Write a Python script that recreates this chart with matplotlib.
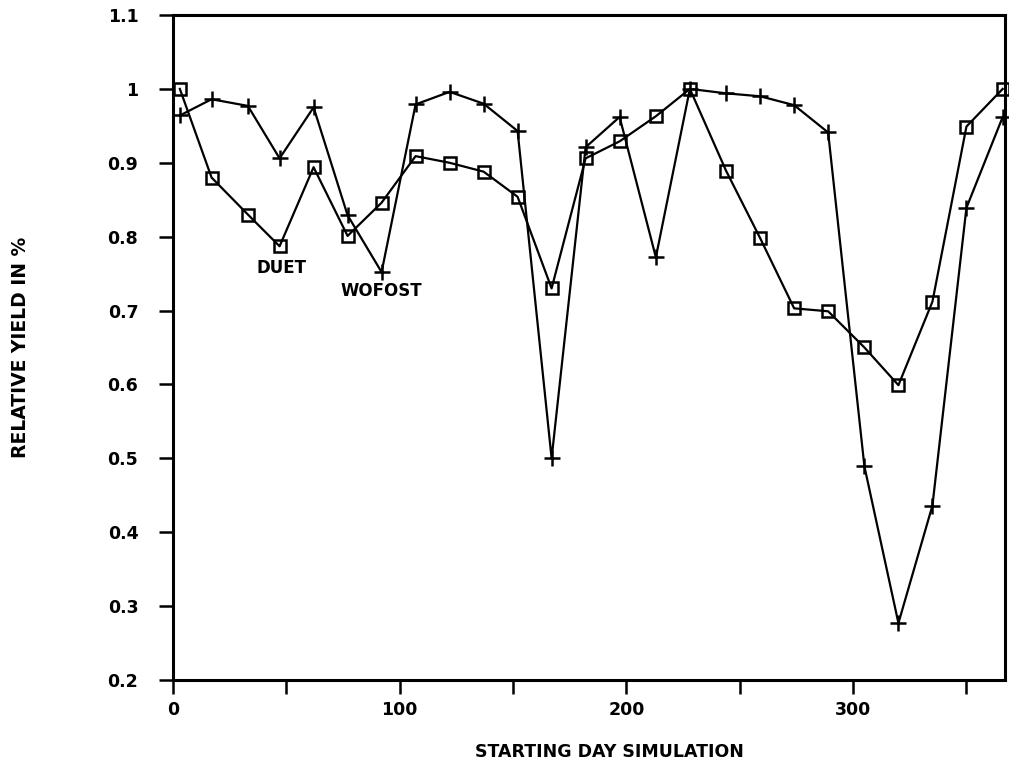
import matplotlib
matplotlib.use("Agg")
import matplotlib.pyplot as plt
from matplotlib.ticker import FixedLocator

# starting day of each simulation run
start_day = [3, 17, 33, 47, 62, 77, 92, 107, 122, 137, 152, 167, 182,
             197, 213, 228, 244, 259, 274, 289, 305, 320, 335, 350, 366]

# relative yield, DUET model (squares)
duet = [1.0, 0.88, 0.83, 0.787, 0.894, 0.801, 0.846, 0.909, 0.90, 0.888,
        0.854, 0.730, 0.906, 0.929, 0.963, 1.0, 0.889, 0.798, 0.703,
        0.699, 0.650, 0.599, 0.712, 0.949, 1.0]

# relative yield, WOFOST model (plus)
wofost = [0.964, 0.986, 0.977, 0.906, 0.975, 0.829, 0.752, 0.979, 0.996,
          0.980, 0.943, 0.500, 0.921, 0.962, 0.772, 1.0, 0.994, 0.990,
          0.978, 0.941, 0.489, 0.277, 0.436, 0.839, 0.962]

y_ticks = [0.2, 0.3, 0.4, 0.5, 0.6, 0.7, 0.8, 0.9, 1.0, 1.1]
y_tick_labels = ["0.2", "0.3", "0.4", "0.5", "0.6", "0.7", "0.8", "0.9", "1", "1.1"]
x_ticks = [0, 100, 200, 300]

plt.rcParams['font.family'] = ['DejaVu Sans']
plt.rcParams['font.weight'] = 'bold'

fig = plt.figure(figsize=(10.09, 7.66), dpi=100)
ax = fig.add_axes([0.1715, 0.1123, 0.8245, 0.8681])

ax.plot(start_day, wofost, color="black", linewidth=1.6, marker="+",
        markersize=11, markeredgewidth=1.8, clip_on=False, zorder=3)
ax.plot(start_day, duet, color="black", linewidth=1.6, marker="s",
        markersize=8.5, markerfacecolor="none", markeredgewidth=1.8,
        clip_on=False, zorder=4)

ax.set_xlim(0, 367)
ax.set_ylim(0.2, 1.1)

ax.xaxis.set_major_locator(FixedLocator(x_ticks))
ax.xaxis.set_minor_locator(FixedLocator([50, 150, 250, 350]))
ax.set_yticks(y_ticks)
ax.set_yticklabels(y_tick_labels)

ax.tick_params(axis="both", which="both", direction="out", length=10,
               width=1.8, color="black")
ax.tick_params(axis="y", pad=15, labelsize=12.5)
ax.tick_params(axis="x", pad=5, labelsize=12.5)
for lab in ax.get_xticklabels() + ax.get_yticklabels():
    lab.set_fontweight("bold")

for side in ["left", "right", "top", "bottom"]:
    ax.spines[side].set_linewidth(2.2)

ax.set_xlabel("STARTING DAY SIMULATION", fontsize=12.5, fontweight="bold")
ax.xaxis.set_label_coords(0.525, -0.095)
ax.set_ylabel("RELATIVE YIELD IN %", fontsize=13.5, fontweight="bold")
ax.yaxis.set_label_coords(-0.172, 0.5)

ax.text(47.7, 0.757, "DUET", fontsize=12, fontweight="bold",
        ha="center", va="center")
ax.text(91.8, 0.726, "WOFOST", fontsize=12, fontweight="bold",
        ha="center", va="center")

fig.savefig("out.png", dpi=100)
